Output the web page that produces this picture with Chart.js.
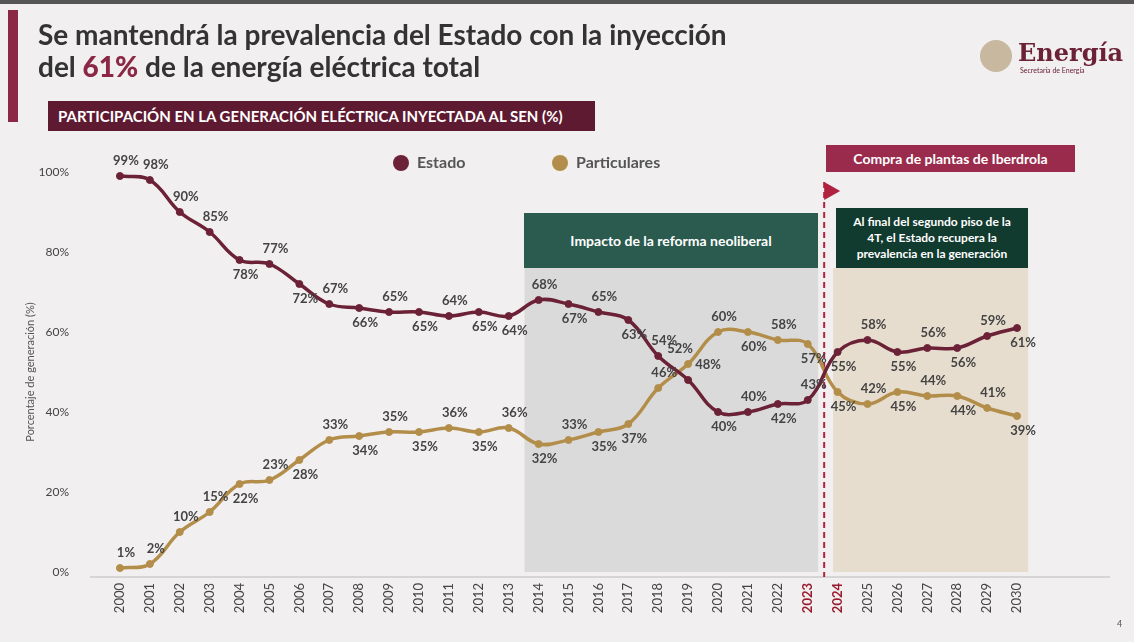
<!DOCTYPE html>
<html>
<head>
<meta charset="utf-8">
<script src="https://cdn.jsdelivr.net/npm/chart.js@4"></script>
<style>
  body { margin: 0; width: 1134px; height: 642px; overflow: hidden; background: #f1efef; font-family: Lato, "Open Sans", sans-serif; position: relative; }
  #c { position: absolute; left: 0; top: 0; }
  .topline { position: absolute; left: 0; top: 0; width: 1134px; height: 4px; background: #555; }
  .sidebar { position: absolute; left: 8px; top: 10px; width: 10px; height: 112px; background: #8a2845; }
  .title { position: absolute; left: 38px; top: 18px; font-size: 28px; font-weight: bold; color: #333; line-height: 32px; }
  .title b { color: #8a2845; }
  .sub { position: absolute; left: 48px; top: 101px; width: 547px; height: 30px; background: #5e1a30; color: #fff; font-weight: bold; font-size: 15px; line-height: 30px; padding-left: 10px; box-sizing: border-box; }
  .logo { position: absolute; left: 980px; top: 40px; }
  .logo .n { font-size: 24px; color: #6b2136; font-weight: bold; position: absolute; left: 38px; top: -2px; font-family: "DejaVu Serif", serif; }
  .logo .s { font-size: 7px; color: #6b2136; position: absolute; left: 40px; top: 26px; white-space: nowrap; }
  .logo .m { position: absolute; left: 0; top: 0; width: 32px; height: 32px; border-radius: 50%; background: #c9b8a0; }
  .legend { position: absolute; top: 152px; font-size: 16px; font-weight: bold; color: #555; }
  .legend i { display: inline-block; width: 16px; height: 16px; border-radius: 50%; vertical-align: -3px; margin-right: 8px; }
  .box { position: absolute; color: #fff; font-weight: bold; text-align: center; box-sizing: border-box; }
  .page { position: absolute; left: 1117px; top: 618px; font-size: 9px; color: #555; }
</style>
</head>
<body>
<canvas id="c" width="1134" height="642"></canvas>
<div class="topline"></div>
<div class="sidebar"></div>
<div class="title">Se mantendrá la prevalencia del Estado con la inyección<br>del <b>61%</b> de la energía eléctrica total</div>
<div class="logo"><div class="m"></div><div class="n">Energía</div><div class="s">Secretaría de Energía</div></div>
<div class="sub">PARTICIPACIÓN EN LA GENERACIÓN ELÉCTRICA INYECTADA AL SEN (%)</div>
<div class="legend" style="left:393px"><i style="background:#6b2136"></i>Estado</div>
<div class="legend" style="left:552px"><i style="background:#b38e4a"></i>Particulares</div>
<div class="box" style="left:524px;top:213px;width:294px;height:55px;background:#2b5b4e;font-size:14px;line-height:55px">Impacto de la reforma neoliberal</div>
<div class="box" style="left:836px;top:208px;width:192px;height:60px;background:#123b30;font-size:12px;line-height:16px;padding:6px 14px 0">Al final del segundo piso de la 4T, el Estado recupera la prevalencia en la generación</div>
<div class="box" style="left:826px;top:145px;width:249px;height:27px;background:#9a2b4c;font-size:14px;line-height:27px">Compra de plantas de Iberdrola</div>
<div class="page">4</div>
<script>
const years = [];
for (let y = 2000; y <= 2030; y++) years.push(y);
const estado = [99,98,90,85,78,77,72,67,66,65,65,64,65,64,68,67,65,63,54,48,40,40,42,43,55,58,55,56,56,59,61];
const particulares = [1,2,10,15,22,23,28,33,34,35,35,36,35,36,32,33,35,37,46,52,60,60,58,57,45,42,45,44,44,41,39];
// label side per point: 1 above, -1 below
const estadoSide = [1,1,1,1,-1,1,-1,1,-1,1,-1,1,-1,-1,1,-1,1,-1,1,1,-1,1,-1,1,-1,1,-1,1,-1,1,-1];
const partSide = [1,1,1,1,-1,1,-1,1,-1,1,-1,1,-1,1,-1,1,-1,-1,1,1,1,-1,1,-1,-1,1,-1,1,-1,1,-1];
const yTicks = [0,20,40,60,80,100];

const toXY = arr => arr.map((v, i) => ({x: years[i], y: v}));

const bgPlugin = {
  id: 'bg',
  beforeDatasetsDraw(chart) {
    const {ctx, scales: {x, y}} = chart;
    const top = 268, bot = y.getPixelForValue(0);
    ctx.save();
    ctx.fillStyle = 'rgba(200,200,200,0.55)';
    const g0 = x.getPixelForValue(2013.53), g1 = x.getPixelForValue(2023.35);
    ctx.fillRect(g0, top, g1 - g0, bot - top);
    ctx.fillStyle = 'rgba(222,205,178,0.55)';
    const b0 = x.getPixelForValue(2023.85), b1 = x.getPixelForValue(2030.37);
    ctx.fillRect(b0, top, b1 - b0, bot - top);
    ctx.strokeStyle = '#bbb'; ctx.lineWidth = 1;
    ctx.beginPath(); ctx.moveTo(90, bot + 5); ctx.lineTo(1110, bot + 5); ctx.stroke();
    const xd = x.getPixelForValue(2023.55);
    ctx.strokeStyle = '#b0223f'; ctx.lineWidth = 2; ctx.setLineDash([6, 4]);
    ctx.beginPath(); ctx.moveTo(xd, 182); ctx.lineTo(xd, bot + 5); ctx.stroke();
    ctx.setLineDash([]);
    ctx.fillStyle = '#b0223f';
    ctx.beginPath(); ctx.moveTo(xd, 182); ctx.lineTo(xd + 16, 191); ctx.lineTo(xd, 200); ctx.fill();
    ctx.restore();
  },
  afterDatasetsDraw(chart) {
    const {ctx} = chart;
    ctx.save();
    ctx.font = 'bold 13px Lato, sans-serif';
    ctx.fillStyle = '#444';
    ctx.textAlign = 'center';
    ctx.textBaseline = 'middle';
    [estadoSide, partSide].forEach((sides, di) => {
      const src = di === 0 ? estado : particulares;
      chart.getDatasetMeta(di).data.forEach((pt, i) => {
        let dx = 6;
        if (years[i] === 2019) dx = di === 0 ? 20 : -8;
        ctx.fillText(src[i] + '%', pt.x + dx, pt.y - sides[i] * 15);
      });
    });
    ctx.restore();
  }
};

new Chart(document.getElementById('c'), {
  type: 'line',
  data: {
    datasets: [
      {label: 'Estado', data: toXY(estado), borderColor: '#6b2136', backgroundColor: '#6b2136'},
      {label: 'Particulares', data: toXY(particulares), borderColor: '#b38e4a', backgroundColor: '#b38e4a'}
    ]
  },
  options: {
    responsive: false,
    animation: false,
    layout: {padding: {left: 20, top: 172, right: 102, bottom: 10}},
    elements: {
      line: {borderWidth: 3.5, tension: 0.4},
      point: {radius: 3.5}
    },
    clip: false,
    plugins: {legend: {display: false}, tooltip: {enabled: false}},
    scales: {
      x: {
        type: 'linear', min: 1999.5, max: 2030.5,
        afterFit: s => { s.height = 60; },
        afterBuildTicks: s => { s.ticks = years.map(v => ({value: v})); },
        grid: {display: false}, border: {display: false},
        ticks: {
          maxRotation: 90, minRotation: 90,
          callback: v => String(v),
          color: c => (c.tick.value === 2023 || c.tick.value === 2024) ? '#9a1b2f' : '#444',
          font: c => ({family: 'Lato, sans-serif', size: 13, weight: (c.tick && (c.tick.value === 2023 || c.tick.value === 2024)) ? 'bold' : 'normal'})
        }
      },
      y: {
        min: 0, max: 100,
        afterFit: s => { s.width = 85; },
        afterBuildTicks: s => { s.ticks = yTicks.map(v => ({value: v})); },
        grid: {display: false}, border: {display: false},
        title: {display: true, text: 'Porcentaje de generación (%)', color: '#555', font: {size: 11, family: 'Lato, sans-serif'}},
        ticks: {callback: v => v + '%', color: '#444', padding: 28, font: {size: 12, family: 'Lato, sans-serif'}}
      }
    }
  },
  plugins: [bgPlugin]
});
</script>
</body>
</html>
